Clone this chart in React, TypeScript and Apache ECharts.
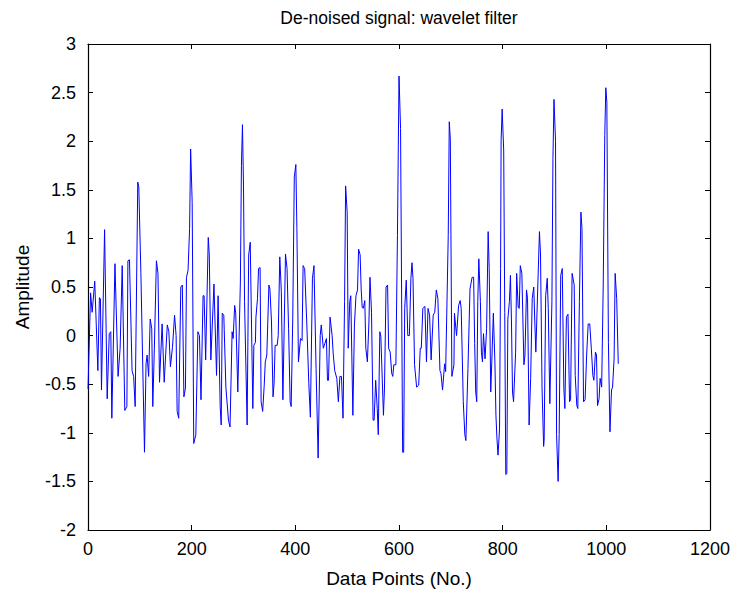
import React, { useEffect, useRef } from "react";
import * as echarts from "echarts";

const xVals: number[] = [
  0, 5, 8, 13, 19, 22, 24, 26, 32, 37, 41, 44, 46, 52, 58, 62, 66, 71, 75, 77, 80, 85, 88, 91, 96, 98,
  102, 109, 112, 114, 117, 120, 123, 125, 128, 132, 135, 138, 143, 147, 150, 153, 156, 159, 163, 167,
  170, 172, 175, 179, 182, 185, 188, 190, 193, 196, 198, 201, 204, 208, 212, 215, 218, 222, 224, 227,
  232, 234, 237, 243, 248, 251, 255, 257, 259, 262, 266, 271, 274, 278, 280, 283, 285, 289, 294, 296,
  298, 300, 302, 307, 310, 313, 318, 320, 323, 324, 327, 329, 332, 334, 337, 340, 342, 345, 349, 351,
  354, 357, 359, 361, 365, 367, 370, 373, 376, 381, 384, 387, 390, 392, 395, 398, 401, 403, 406, 410,
  413, 415, 418, 422, 426, 429, 433, 436, 440, 444, 448, 450, 454, 457, 460, 462, 464, 467, 471, 473,
  476, 480, 483, 486, 489, 492, 495, 497, 500, 502, 505, 507, 511, 514, 517, 520, 522, 525, 527, 529,
  531, 534, 536, 539, 542, 544, 547, 550, 552, 555, 558, 560, 563, 565, 570, 572, 575, 578, 580, 583,
  586, 588, 590, 594, 597, 600, 603, 607, 609, 611, 614, 617, 620, 623, 625, 627, 630, 634, 638, 641,
  643, 646, 650, 653, 656, 659, 662, 666, 669, 672, 675, 679, 681, 684, 688, 690, 695, 697, 699, 702,
  706, 707, 711, 715, 718, 720, 724, 727, 729, 733, 737, 741, 744, 746, 748, 750, 752, 754, 757, 759,
  761, 763, 766, 769, 772, 774, 777, 779, 782, 785, 787, 789, 791, 794, 796, 797, 799, 802, 804, 806,
  808, 810, 813, 815, 817, 819, 821, 825, 827, 830, 832, 834, 837, 839, 841, 843, 846, 848, 851, 854,
  857, 860, 862, 864, 868, 871, 873, 876, 879, 880, 883, 886, 888, 891, 895, 897, 899, 902, 904, 907,
  909, 912, 915, 918, 920, 923, 926, 929, 931, 934, 938, 940, 943, 945, 948, 951, 953, 956, 959, 962,
  965, 968, 971, 974, 976, 979, 981, 983, 986, 988, 991, 994, 997, 999, 1001, 1004, 1007, 1010, 1012,
  1015, 1017, 1020, 1023
];

const yVals: number[] = [
  -0.55, 0.44, 0.24, 0.56, -0.36, 0.39, 0.38, -0.56, 1.09, -0.65, 0.02, 0.04, -0.85, 0.74, -0.42, -0.13,
  0.72, -0.77, -0.73, 0.77, 0.78, -0.36, -0.42, -0.73, 1.58, 1.53, 0.65, -1.2, -0.29, -0.2, -0.42, 0.17,
  0.07, -0.73, -0.13, 0.77, 0.64, -0.48, 0.12, -0.48, -0.18, 0.11, 0.04, -0.32, -0.12, 0.21, 0, -0.78,
  -0.85, 0.5, 0.52, -0.63, -0.54, 0.6, 0.67, 1.1, 1.92, 1.37, -1.11, -1.02, 0.04, 0, -0.66, 0.41, 0.41,
  -0.25, 1.01, 0.83, -0.25, 0.53, -0.41, 0.41, -0.73, -0.92, 0.23, 0.21, -0.53, -0.87, -0.94, 0.04,
  -0.03, 0.31, 0.23, -0.58, 0.55, 1.75, 2.17, 1.54, 0.35, -0.92, 0.83, 0.96, -0.75, -0.1, -0.07, 0.19,
  0.38, 0.69, 0.7, -0.68, -0.78, -0.51, -0.27, -0.2, 0.52, 0.48, 0.14, -0.63, -0.49, -0.1, -0.1, 0,
  0.81, 0.45, -0.66, 0.84, 0.69, 0.07, -0.68, -0.73, 0.17, 1.63, 1.76, 1.1, -0.27, -0.03, -0.05, 0.72,
  0.69, 0.14, -0.49, -0.84, 0.59, 0.72, -0.34, -1.26, 0, 0.11, -0.13, -0.08, -0.03, -0.46, -0.46, 0.19,
  0, -0.18, -0.36, -0.44, -0.68, -0.42, -0.42, -0.85, 0.35, 1.54, 1.27, -0.13, 0.35, 0.41, -0.82, 0.11,
  0.41, 0.47, 0.89, 0.83, 0.48, 0.29, 0.28, 0.36, -0.13, -0.27, 0.14, 0.6, 0.24, -0.87, -0.87, -0.46,
  -0.75, -1.02, 0.04, -0.01, -0.82, -0.54, 0.5, 0.52, -0.13, -0.17, -0.39, -0.42, -0.3, -0.3, 1.03,
  2.67, 2.13, -1.2, -1.2, 0.28, 0.57, 0, 0, 0.59, 0.75, 0.59, -0.3, -0.53, -0.51, -0.13, -0.13, 0.28,
  0.3, -0.27, 0.28, 0.21, -0.25, 0.21, 0.24, 0.47, 0.38, -0.36, -0.39, -0.56, -0.29, -0.37, 1.03, 2.2,
  2.02, -0.42, -0.3, 0.23, 0, 0.31, 0.36, 0.28, -0.68, -1.02, -1.08, -0.34, 0.48, 0.6, 0.6, -0.08,
  -0.58, -0.68, 0.35, 0.79, 0.35, -0.17, -0.27, 0.02, -0.24, 0.07, 1.07, 0.69, -0.58, -0.27, 0.23,
  -0.27, -0.82, -1.06, -1.23, -0.96, 0.69, 2.01, 2.33, 1.9, 0.24, -1.43, -1.42, 0.17, 0.35, 0.62, 0.14,
  -0.58, -0.68, -0.17, 0.64, 0.29, 0.28, 0.72, 0.64, 0.17, -0.3, -0.2, 0.47, 0.38, -0.92, -0.44, 0.38,
  0.5, 0.14, -0.17, 0.55, 1.07, 0.84, -0.54, -1.14, -1.08, 0.41, 0.59, 0.28, -0.7, 0.35, 1.82, 2.43,
  2.0, -1.02, -1.5, -1.02, 0.62, 0.69, -0.54, -0.75, 0.19, 0.22, -0.68, -0.66, 0.64, 0.52, -0.41,
  -0.72, -0.75, 0.35, 1.27, 1.1, -0.68, -0.66, -0.2, 0.12, 0.12, -0.13, -0.41, -0.46, -0.17, -0.2,
  -0.72, -0.65, -0.44, -0.53, 0.52, 2.06, 2.55, 2.4, -0.07, -0.99, -0.56, -0.53, -0.24, 0.64, 0.38,
  -0.29
];

const xTicks = { min: 0, max: 1200, interval: 200 };
const yTicks = { min: -2, max: 3, interval: 0.5 };

const titleText = "De-noised signal: wavelet filter";
const xName = "Data Points (No.)";
const yName = "Amplitude";

export default function App() {
  const ref = useRef<HTMLDivElement>(null);
  useEffect(() => {
    if (!ref.current) return;
    const chart = echarts.init(ref.current, null, { renderer: "svg" });
    const font = "'Liberation Sans', Arial, Helvetica, sans-serif";
    const data = xVals.map((x, i) => [x, yVals[i]]);
    const axisLine = { show: true, onZero: false, lineStyle: { color: "#000", width: 1.2 } };
    const tick = { show: true, inside: true, length: 5, lineStyle: { color: "#000" } };
    const fmt = (v: number) => String(v);
    chart.setOption({
      animation: false,
      backgroundColor: "#fff",
      grid: { left: 88, right: 25, top: 44, bottom: 62, containLabel: false },
      graphic: [
        {
          type: "text",
          x: 399,
          y: 9,
          style: { text: titleText, fill: "#000", font: `17.5px ${font}`, textAlign: "center" },
        },
      ],
      xAxis: [
        {
          type: "value",
          ...xTicks,
          position: "bottom",
          axisLine,
          axisTick: tick,
          splitLine: { show: false },
          axisLabel: { color: "#000", fontSize: 18, fontFamily: font, margin: 10, formatter: fmt },
          name: xName,
          nameLocation: "middle",
          nameGap: 39,
          nameTextStyle: { color: "#000", fontSize: 19, fontFamily: font },
        },
        {
          type: "value",
          ...xTicks,
          position: "top",
          axisLine,
          axisTick: tick,
          splitLine: { show: false },
          axisLabel: { show: false },
        },
      ],
      yAxis: [
        {
          type: "value",
          ...yTicks,
          position: "left",
          axisLine,
          axisTick: tick,
          splitLine: { show: false },
          axisLabel: { color: "#000", fontSize: 18, fontFamily: font, margin: 12, formatter: fmt },
          name: yName,
          nameLocation: "middle",
          nameGap: 56,
          nameTextStyle: { color: "#000", fontSize: 19, fontFamily: font },
        },
        {
          type: "value",
          ...yTicks,
          position: "right",
          axisLine,
          axisTick: tick,
          splitLine: { show: false },
          axisLabel: { show: false },
        },
      ],
      series: [
        {
          type: "line",
          xAxisIndex: 0,
          yAxisIndex: 0,
          data,
          showSymbol: false,
          symbol: "none",
          lineStyle: { color: "#0000ff", width: 1 },
        },
      ],
    });
    return () => chart.dispose();
  }, []);
  return (
    <div
      ref={ref}
      style={{ position: "fixed", left: 0, top: 0, width: 735, height: 593, background: "#fff" }}
    />
  );
}
